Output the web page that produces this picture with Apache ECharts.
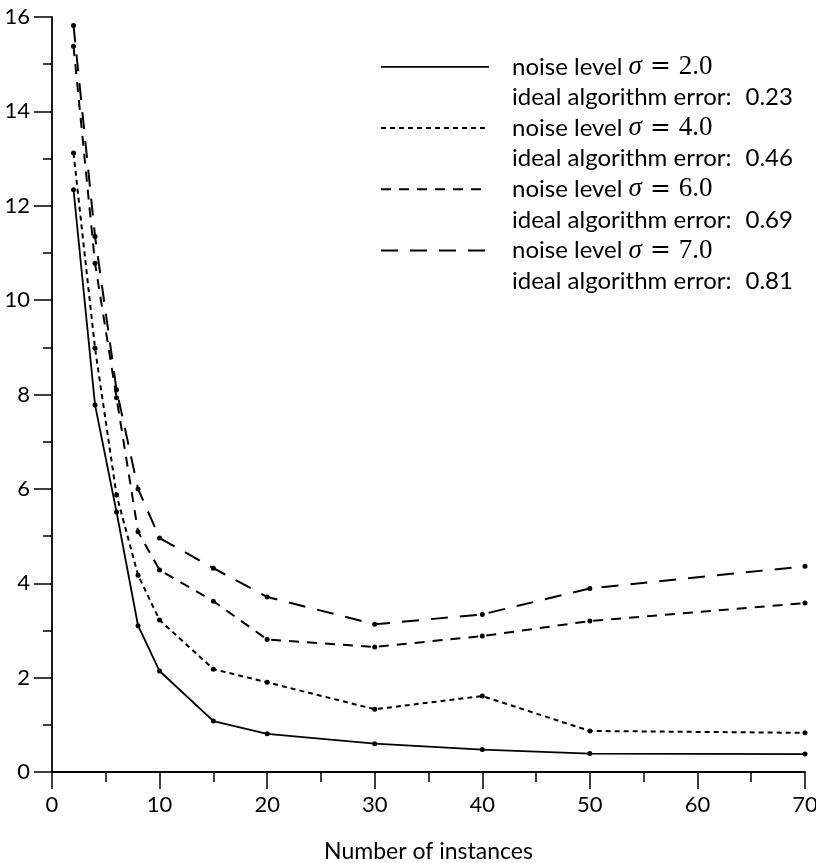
<!DOCTYPE html>
<html>
<head>
<meta charset="utf-8">
<title>Error vs number of instances</title>
<script src="https://cdn.jsdelivr.net/npm/echarts@6/dist/echarts.min.js"></script>
<style>
  html, body { margin: 0; padding: 0; background: #fff; }
  #chart { width: 816px; height: 863px; }
</style>
</head>
<body>
<div id="chart"></div>
<script>
// Number of instances at which each configuration was evaluated
const instances = [2, 4, 6, 8, 10, 15, 20, 30, 40, 50, 70];

// Mean error for each noise level
const errSigma2 = [12.34, 7.78, 5.51, 3.10, 2.14, 1.08, 0.81, 0.60, 0.475, 0.39, 0.38];
const errSigma4 = [13.12, 8.98, 5.87, 4.17, 3.22, 2.18, 1.90, 1.33, 1.61, 0.87, 0.83];
const errSigma6 = [15.38, 10.78, 7.93, 5.09, 4.28, 3.62, 2.81, 2.65, 2.88, 3.20, 3.58];
const errSigma7 = [15.82, 11.35, 8.10, 6.00, 4.96, 4.32, 3.71, 3.13, 3.34, 3.89, 4.36];

// Legend annotations
const sigmaLabels = ['2.0', '4.0', '6.0', '7.0'];
const idealErrors = ['0.23', '0.46', '0.69', '0.81'];

// Axis ranges and tick steps
const xMin = 0, xMax = 70, xStep = 10;
const yMin = 0, yMax = 16, yStep = 2;

const sansFont = "Lato, 'Open Sans', sans-serif";
const serifFont = "'Liberation Serif', 'DejaVu Serif', serif";
const lineH = 30.6;

const errSets = [errSigma2, errSigma4, errSigma6, errSigma7];
const dashes = ['solid', [5, 4], [10, 8], [17, 12]];
const widths = [1.8, 2, 2, 2];

const seriesNames = sigmaLabels.map(s => 'sigma ' + s);

const series = errSets.map((vals, i) => ({
  name: seriesNames[i],
  type: 'line',
  data: instances.map((x, j) => [x, vals[j]]),
  symbol: 'circle',
  symbolSize: 5,
  itemStyle: { color: '#000' },
  lineStyle: { color: '#000', width: widths[i], type: dashes[i] },
  z: 3
}));

const chart = echarts.init(document.getElementById('chart'));
chart.setOption({
  animation: false,
  backgroundColor: '#fff',
  grid: { left: 52, right: 11, top: 17, bottom: 91, outerBoundsMode: 'none', containLabel: false },
  xAxis: {
    type: 'value',
    min: xMin, max: xMax, interval: xStep,
    name: 'Number of instances',
    nameLocation: 'middle',
    nameGap: 68,
    nameTextStyle: { color: '#000', fontFamily: sansFont, fontSize: 23 },
    axisLine: { show: true, onZero: false, lineStyle: { color: '#000', width: 1.8 } },
    axisTick: { show: true, length: 17, lineStyle: { color: '#000', width: 1.5 } },
    minorTick: { show: true, splitNumber: 2, length: 10, lineStyle: { color: '#000', width: 1.5 } },
    axisLabel: { color: '#000', fontFamily: sansFont, fontSize: 22, margin: 22 },
    splitLine: { show: false }
  },
  yAxis: {
    type: 'value',
    min: yMin, max: yMax, interval: yStep,
    axisLine: { show: true, onZero: false, lineStyle: { color: '#000', width: 1.8 } },
    axisTick: { show: true, length: 18, lineStyle: { color: '#000', width: 1.5 } },
    minorTick: { show: true, splitNumber: 2, length: 9, lineStyle: { color: '#000', width: 1.5 } },
    axisLabel: { color: '#000', fontFamily: sansFont, fontSize: 22, margin: 22 },
    splitLine: { show: false }
  },
  legend: {
    orient: 'vertical',
    left: 380,
    top: 21,
    padding: 0,
    itemGap: -lineH,
    itemWidth: 108,
    itemHeight: 12,
    selectedMode: false,
    data: seriesNames,
    itemStyle: { color: 'rgba(0,0,0,0)', borderWidth: 0 },
    lineStyle: { width: 'inherit' },
    formatter: name => {
      const i = seriesNames.indexOf(name);
      return '{t|noise level }{g|\u03c3}{sp| }{eq|=}{sp| }{m|' + sigmaLabels[i] + '}\n' +
             '{t|ideal algorithm error:}{gap| }{t|' + idealErrors[i] + '}';
    },
    textStyle: {
      color: '#000',
      fontFamily: sansFont,
      fontSize: 24,
      lineHeight: lineH,
      padding: [lineH, 0, 0, 18],
      rich: {
        t: { fontFamily: sansFont, fontSize: 24, lineHeight: lineH, color: '#000' },
        gap: { fontFamily: sansFont, fontSize: 24, width: 14, lineHeight: lineH },
        sp: { fontFamily: serifFont, fontSize: 26, width: 8, lineHeight: lineH },
        g: { fontFamily: serifFont, fontStyle: 'italic', fontSize: 27, lineHeight: lineH, color: '#000' },
        eq: { fontFamily: "'DejaVu Serif', serif", fontSize: 25, lineHeight: lineH, color: '#000' },
        m: { fontFamily: serifFont, fontSize: 27, lineHeight: lineH, color: '#000' }
      }
    }
  },
  series: series
});
</script>
</body>
</html>
